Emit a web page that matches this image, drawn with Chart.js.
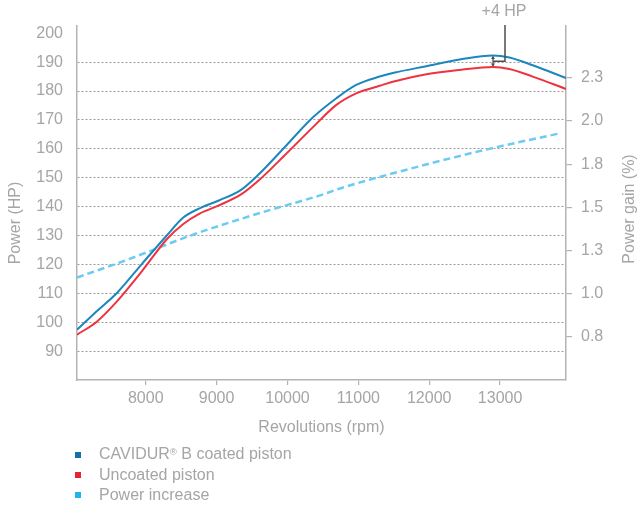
<!DOCTYPE html>
<html>
<head>
<meta charset="utf-8">
<script src="https://cdn.jsdelivr.net/npm/chart.js@4.4.1/dist/chart.umd.min.js"></script>
<style>
  html, body { margin: 0; padding: 0; background: #ffffff; }
  #wrap { position: relative; width: 637px; height: 508px; overflow: hidden; }
  #c { position: absolute; left: 0; top: 0; }
  #legend { position: absolute; left: 75px; top: 445px; font-family: "Liberation Sans", Arial, sans-serif; font-size: 16px; color: #a5a5a5; }
  .row { height: 20px; line-height: 20px; display: flex; align-items: center; white-space: nowrap; }
  .sw { width: 6px; height: 6px; margin-right: 18px; flex: none; }
  .reg { font-size: 0.6em; position: relative; top: -0.45em; }
</style>
</head>
<body>
<div id="wrap">
  <canvas id="c" width="637" height="508"></canvas>
  <div id="legend"></div>
</div>
<script>
// ---- data ----
const rpm        = [7030, 7300, 7600, 7950, 8300, 8530, 8760, 9040, 9350, 9600, 9950, 10360, 10690, 10970, 11300, 11500, 11960, 12430, 12900, 13130, 13460, 13930];
const coatedHP   = [97.4, 103.6, 110.3, 120.3, 130.1, 136.2, 139.4, 142.2, 145.9, 151.3, 160.3, 170.9, 177.5, 182.1, 185.0, 186.3, 188.6, 190.9, 192.3, 191.6, 188.9, 184.5];
const uncoatedHP = [95.7, 100.0, 107.4, 117.8, 128.8, 134.0, 137.6, 140.5, 144.3, 149.2, 157.5, 167.5, 175.2, 179.2, 181.8, 183.3, 185.8, 187.3, 188.3, 187.6, 185.0, 180.7];
const gainRpm    = [7030, 7730, 8670, 9610, 10450, 10810, 11680, 12800, 13860];
const gainPct    = [1.093, 1.195, 1.342, 1.467, 1.568, 1.618, 1.718, 1.834, 1.930];

const xTicks = [8000, 9000, 10000, 11000, 12000, 13000];
const leftTicks = [90, 100, 110, 120, 130, 140, 150, 160, 170, 180, 190, 200];
const rightTicks = [0.75, 1.0, 1.25, 1.5, 1.75, 2.0, 2.25];
const rightTickLabels = ['0.8', '1.0', '1.3', '1.5', '1.8', '2.0', '2.3'];

const seriesLabels = ['CAVIDUR® B coated piston', 'Uncoated piston', 'Power increase'];
const lineColors = ['#1b87bd', '#ee3340', '#6ccbf1'];
const legendColors = ['#166fa6', '#e42532', '#1fb4ea'];

const annotationIndex = 18;
const annotationLabel = '+4 HP';

const FONT = '"Liberation Sans", Arial, sans-serif';
const TEXT = '#a5a5a5';
const AXIS = '#b3b3b3';

const pts = (xs, ys) => xs.map((x, i) => ({ x: x, y: ys[i] }));

const textPlugin = {
  id: 'extras',
  afterDatasetsDraw(chart) {
    const { ctx, scales } = chart;
    const xs = scales.x, ys = scales.y;
    const i = annotationIndex;
    const px = xs.getPixelForValue(rpm[i]);
    const yb = ys.getPixelForValue(coatedHP[i]);
    const yr = ys.getPixelForValue(uncoatedHP[i]);
    const ym = (yb + yr) / 2;
    const vx = px + 12;
    ctx.save();
    ctx.strokeStyle = '#4d4d4d';
    ctx.fillStyle = '#4d4d4d';
    ctx.lineWidth = 1.2;
    ctx.beginPath();
    ctx.moveTo(px, yb + 1);
    ctx.lineTo(px, yr - 1);
    ctx.stroke();
    ctx.beginPath();
    ctx.moveTo(px, yb + 0.5); ctx.lineTo(px - 2, yb + 3.5); ctx.lineTo(px + 2, yb + 3.5); ctx.closePath(); ctx.fill();
    ctx.beginPath();
    ctx.moveTo(px, yr - 0.5); ctx.lineTo(px - 2, yr - 3.5); ctx.lineTo(px + 2, yr - 3.5); ctx.closePath(); ctx.fill();
    ctx.lineWidth = 1.5;
    ctx.beginPath();
    ctx.moveTo(px, ym);
    ctx.lineTo(vx, ym);
    ctx.lineTo(vx, chart.chartArea.top - 1);
    ctx.stroke();
    ctx.fillStyle = TEXT;
    ctx.font = '16px ' + FONT;
    ctx.textAlign = 'center';
    ctx.textBaseline = 'middle';
    ctx.fillText(annotationLabel, vx - 1, 12);
    ctx.restore();
  },
  afterDraw(chart) {
    const { ctx, chartArea, scales } = chart;
    const cy = (chartArea.top + chartArea.bottom) / 2;
    ctx.save();
    ctx.fillStyle = TEXT;
    ctx.font = '16px ' + FONT;
    ctx.textAlign = 'center';
    ctx.textBaseline = 'middle';
    const rot = (t, x, y) => { ctx.save(); ctx.translate(x, y); ctx.rotate(-Math.PI / 2); ctx.fillText(t, 0, 0); ctx.restore(); };
    rot(scales.y.options.title.text, scales.y.left + 16, cy + 20);
    rot(scales.y1.options.title.text, scales.y1.right - 7, cy + 6);
    ctx.restore();
  }
};

const chart = new Chart(document.getElementById('c'), {
  type: 'line',
  data: {
    datasets: [
      { label: seriesLabels[0], data: pts(rpm, coatedHP), borderColor: lineColors[0], backgroundColor: legendColors[0], borderWidth: 2, pointRadius: 0, cubicInterpolationMode: 'monotone', yAxisID: 'y', fill: false },
      { label: seriesLabels[1], data: pts(rpm, uncoatedHP), borderColor: lineColors[1], backgroundColor: legendColors[1], borderWidth: 2, pointRadius: 0, cubicInterpolationMode: 'monotone', yAxisID: 'y', fill: false },
      { label: seriesLabels[2], data: pts(gainRpm, gainPct), borderColor: lineColors[2], backgroundColor: legendColors[2], borderWidth: 2.5, borderDash: [7, 4], pointRadius: 0, cubicInterpolationMode: 'monotone', yAxisID: 'y1', fill: false }
    ]
  },
  options: {
    responsive: false,
    animation: false,
    layout: { padding: { top: 26, bottom: 70, left: 0, right: 0 } },
    plugins: { legend: { display: false }, tooltip: { enabled: false } },
    scales: {
      x: {
        type: 'linear', position: 'bottom', min: 7030, max: 13930,
        afterBuildTicks: s => { s.ticks = xTicks.map(v => ({ value: v })); },
        afterFit: s => { s.height = 58; },
        ticks: { color: TEXT, font: { family: FONT, size: 16 }, padding: 4, maxRotation: 0, callback: v => String(v) },
        grid: { drawOnChartArea: false, drawTicks: true, tickLength: 5, color: AXIS, lineWidth: 1.2 },
        border: { display: true, color: AXIS, width: 1.5 },
        title: { display: true, text: 'Revolutions (rpm)', color: TEXT, font: { family: FONT, size: 16 }, padding: { top: 0, bottom: 1 } }
      },
      y: {
        type: 'linear', position: 'left', min: 80, max: 202.5,
        afterBuildTicks: s => { s.ticks = leftTicks.map(v => ({ value: v })); },
        afterFit: s => { s.width = 77; },
        ticks: { color: TEXT, font: { family: FONT, size: 16 }, padding: 14, callback: v => String(v) },
        grid: { drawTicks: false, lineWidth: 1, color: c => (c.tick && c.tick.value === 200) ? 'rgba(0,0,0,0)' : '#9a9a9a' },
        border: { display: true, color: AXIS, width: 1.5, dash: [2, 2] },
        title: { display: false, text: 'Power (HP)' }
      },
      y1: {
        type: 'linear', position: 'right', min: 0.5, max: 2.55,
        afterBuildTicks: s => { s.ticks = rightTicks.map(v => ({ value: v })); },
        afterFit: s => { s.width = 71; },
        ticks: { color: TEXT, font: { family: FONT, size: 16 }, padding: 9, callback: (v, i) => rightTickLabels[i] },
        grid: { drawOnChartArea: false, drawTicks: true, tickLength: 6, color: AXIS, lineWidth: 1.2 },
        border: { display: true, color: AXIS, width: 1.5 },
        title: { display: false, text: 'Power gain (%)' }
      }
    }
  },
  plugins: [textPlugin]
});

const legend = document.getElementById('legend');
chart.data.datasets.forEach((ds, i) => {
  const row = document.createElement('div');
  row.className = 'row';
  const sw = document.createElement('span');
  sw.className = 'sw';
  sw.style.background = legendColors[i];
  const label = document.createElement('span');
  const parts = ds.label.split('®');
  label.appendChild(document.createTextNode(parts[0]));
  if (parts.length > 1) {
    const r = document.createElement('span');
    r.className = 'reg';
    r.textContent = '®';
    label.appendChild(r);
    label.appendChild(document.createTextNode(parts.slice(1).join('®')));
  }
  row.appendChild(sw);
  row.appendChild(label);
  legend.appendChild(row);
});
</script>
</body>
</html>
